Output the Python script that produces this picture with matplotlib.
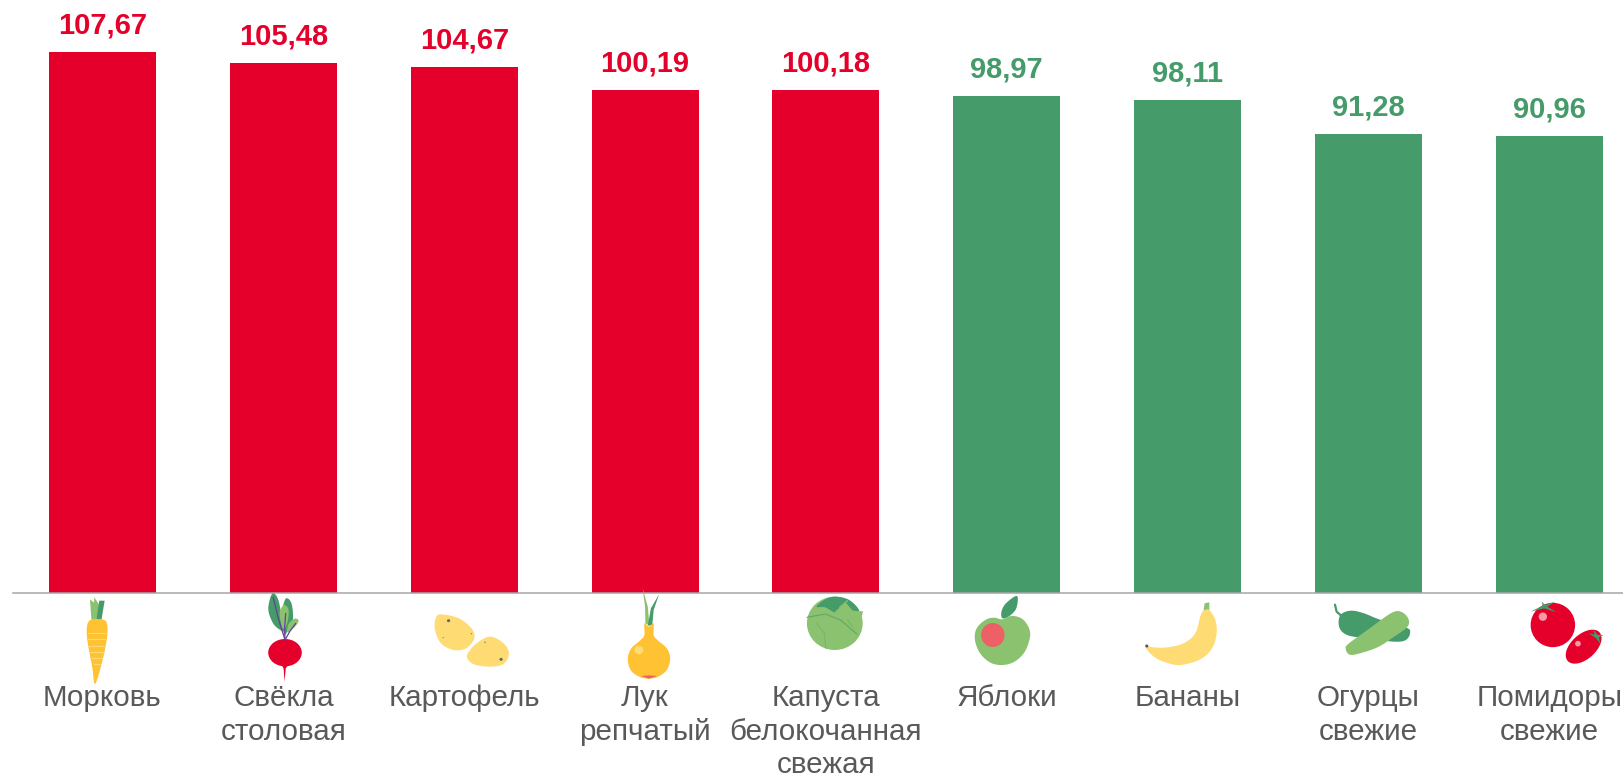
import numpy as np
import matplotlib
matplotlib.use("Agg")
import matplotlib.pyplot as plt
from matplotlib.patches import Polygon, Ellipse

categories = ["Морковь", "Свёкла\nстоловая", "Картофель", "Лук\nрепчатый",
              "Капуста\nбелокочанная\nсвежая", "Яблоки", "Бананы",
              "Огурцы\nсвежие", "Помидоры\nсвежие"]
values = [107.67, 105.48, 104.67, 100.19, 100.18, 98.97, 98.11, 91.28, 90.96]
value_labels = ["107,67", "105,48", "104,67", "100,19", "100,18", "98,97", "98,11", "91,28", "90,96"]

RED, GREEN, GRAY = "#E4002B", "#459B69", "#595959"
LGREEN, YEL, PALE, PINK = "#8BC26F", "#FFC233", "#FFDB73", "#EC6066"
bar_colors = [RED] * 5 + [GREEN] * 4

W, H = 1624, 778
BASE = 593.0
STEP = 180.85
AX0 = 12.5
plt.rcParams["font.family"] = ["Liberation Sans", "DejaVu Sans"]
fig = plt.figure(figsize=(W / 100, H / 100), dpi=100, facecolor="white")
ax = fig.add_axes([AX0 / W, 1 - BASE / H, (W - AX0) / W, BASE / H])
x = np.arange(len(values))
ax.bar(x, values, width=107 / STEP, color=bar_colors, linewidth=0)
ax.set_xlim((AX0 - 102.5) / STEP, (W - 102.5) / STEP)
ax.set_ylim(0, BASE / 5.025)
for s in ("top", "left", "right"):
    ax.spines[s].set_visible(False)
ax.spines["bottom"].set_color("#A6A6A6")
ax.spines["bottom"].set_linewidth(1.1)
ax.yaxis.set_visible(False)
ax.set_xticks(x, categories)
ax.tick_params(axis="x", length=0, pad=65.6, labelsize=21.3, labelcolor=GRAY)
for t in ax.get_xticklabels():
    t.set_linespacing(1.25)
for xi, v, lab, c in zip(x, values, value_labels, bar_colors):
    ax.annotate(lab, (xi, v), xytext=(0, 13.2), textcoords="offset points", ha="center",
                va="baseline", fontsize=21, fontweight="bold", color=c, annotation_clip=False)

# decorative produce icons, drawn in figure pixels
ov = fig.add_axes([0, 0, 1, 1], facecolor="none")
ov.set_xlim(0, W); ov.set_ylim(H, 0); ov.axis("off")


def smooth(pts, n=10):
    p = np.array(pts, float)
    out = []
    for i in range(len(p)):
        p0, p1, p2, p3 = p[i - 1], p[i], p[(i + 1) % len(p)], p[(i + 2) % len(p)]
        for t in np.linspace(0, 1, n, endpoint=False):
            out.append(0.5 * (2 * p1 + (p2 - p0) * t + (2 * p0 - 5 * p1 + 4 * p2 - p3) * t ** 2
                              + (3 * p1 - p0 - 3 * p2 + p3) * t ** 3))
    return np.array(out)


class Z:
    """Maps crop coordinates to figure pixels."""
    def __init__(self, x0, sx):
        self.x0, self.sx = x0, sx

    def m(self, pts):
        p = np.array(pts, float)
        return np.c_[self.x0 + p[:, 0] / self.sx, 570 + p[:, 1] / 3]

    def poly(self, pts, c, round_=True):
        q = self.m(pts)
        ov.add_patch(Polygon(smooth(q) if round_ else q, closed=True, fc=c, ec="none"))

    def ell(self, cx, cy, w, h, c, angle=0):
        q = self.m([[cx, cy]])[0]
        ov.add_patch(Ellipse(q, w / self.sx, h / 3, angle=angle, fc=c, ec="none"))

    def line(self, pts, c, lw=1.0):
        q = self.m(pts)
        ov.plot(q[:, 0], q[:, 1], color=c, lw=lw, solid_capstyle="round")


a = Z(0, 2.8)
# carrot
a.poly([(256, 150), (252, 88), (266, 100), (272, 150)], LGREEN, False)
a.poly([(262, 150), (264, 82), (278, 105), (282, 150)], LGREEN, False)
a.poly([(270, 150), (278, 92), (293, 92), (284, 150)], GREEN, False)
a.poly([(272, 147), (295, 152), (301, 175), (298, 215), (285, 280), (266, 342), (258, 290),
        (245, 215), (243, 175), (250, 152)], YEL)
for yy, hw in [(190, 26), (208, 25), (227, 22), (245, 19), (263, 14), (283, 8)]:
    a.line([(272 - hw, yy), (272 + hw, yy)], PALE, 0.8)
# beet
a.poly([(765, 70), (780, 92), (792, 165), (794, 184), (768, 165), (752, 125), (755, 90)], GREEN)
a.poly([(800, 86), (816, 100), (820, 150), (806, 182), (795, 192), (790, 130)], GREEN)
a.poly([(795, 105), (808, 120), (804, 160), (792, 175), (783, 130)], LGREEN)
a.poly([(836, 152), (826, 170), (805, 187), (808, 162), (825, 146)], LGREEN)
for tip in [(765, 82), (800, 130), (828, 160)]:
    a.line([(798, 210), ((798 + tip[0]) / 2 - 2, (210 + tip[1]) / 2), tip], "#6A3D9A", 0.9)
a.poly([(786, 280), (810, 280), (800, 295), (797, 335), (794, 295)], RED, False)
a.ell(798, 248, 94, 82, RED)
# potatoes
a.poly([(1235, 133), (1285, 145), (1320, 175), (1328, 205), (1305, 235), (1270, 240), (1235, 220),
        (1218, 180), (1220, 145)], PALE)
a.poly([(1375, 200), (1410, 220), (1425, 250), (1410, 282), (1370, 290), (1325, 282), (1307, 260),
        (1320, 235), (1345, 212)], PALE)
a.ell(1256, 152, 9, 9, "#666666"); a.ell(1403, 268, 9, 9, "#666666")
a.ell(1320, 191, 4, 4, "#888888"); a.ell(1241, 203, 4, 4, "#888888"); a.ell(1358, 217, 4, 5, "#888888")

b = Z(560, 2.904)
# onion
b.poly([(240, 55), (255, 110), (260, 167), (248, 160), (247, 110)], LGREEN, False)
b.poly([(288, 72), (272, 120), (268, 165), (255, 167), (264, 115)], GREEN, False)
b.poly([(245, 160), (258, 170), (272, 160), (272, 195), (285, 212), (310, 235), (320, 265),
        (310, 300), (285, 320), (258, 326), (230, 320), (205, 300), (197, 265), (207, 235),
        (232, 212), (245, 195)], YEL)
b.ell(229, 240, 26, 26, PALE)
b.poly([(236, 318), (258, 316), (282, 318), (258, 326)], PINK, False)
# cabbage
b.ell(798, 160, 162, 160, LGREEN)
b.poly([(745, 110), (770, 88), (800, 80), (840, 90), (868, 122), (830, 122), (800, 128), (770, 112)], GREEN)
b.poly([(795, 128), (830, 98), (850, 122), (880, 124), (876, 140), (835, 130)], LGREEN, False)
b.line([(717, 142), (770, 132), (815, 150), (862, 192)], "#5FA868", 0.8)
b.line([(812, 112), (835, 92)], LGREEN, 0.9)
b.line([(772, 235), (768, 190), (745, 160)], "#74B46C", 0.7)
b.line([(835, 150), (850, 170)], "#74B46C", 0.7)
# apple
b.poly([(1285, 148), (1310, 138), (1340, 145), (1360, 170), (1365, 200), (1350, 245), (1320, 275),
        (1285, 285), (1250, 278), (1220, 250), (1205, 210), (1210, 175), (1235, 150), (1260, 143)], LGREEN)
b.ell(1257, 195, 68, 72, PINK)
b.poly([(1327, 78), (1325, 115), (1305, 138), (1285, 145), (1282, 125), (1295, 100)], GREEN)

c = Z(1100, 2.992)
# banana
c.poly([(310, 122), (313, 100), (327, 97), (327, 122)], LGREEN, False)
c.poly([(135, 228), (160, 232), (200, 232), (250, 220), (285, 190), (300, 140), (310, 122), (327, 120),
        (345, 150), (349, 190), (335, 235), (300, 268), (240, 285), (190, 275), (155, 255)], PALE)
c.ell(140, 228, 9, 9, "#555555")
# cucumbers
c.line([(703, 104), (708, 125), (725, 140)], GREEN, 1.6)
c.poly([(722, 132), (752, 122), (790, 130), (835, 148), (915, 172), (928, 188), (915, 210), (880, 215),
        (800, 205), (745, 197), (720, 180), (714, 155)], GREEN)
c.poly([(735, 235), (745, 220), (800, 180), (870, 130), (900, 125), (922, 145), (920, 170), (880, 200),
        (830, 232), (770, 252), (745, 253)], LGREEN)
# tomatoes
c.ell(1355, 165, 133, 133, RED)
c.ell(1325, 140, 25, 25, "#F59AA5")
for tip in [(1288, 125), (1365, 127), (1322, 95), (1362, 95)]:
    q = (1330, 110)
    d = np.array(tip, float) - q
    n = np.array([-d[1], d[0]]) / np.hypot(*d) * 5
    c.poly([(q[0] + n[0], q[1] + n[1]), tip, (q[0] - n[0], q[1] - n[1])], GREEN, False)
c.ell(1447, 230, 128, 74, RED, angle=-42)
c.ell(1430, 221, 17, 17, "#F59AA5")
for tip in [(1475, 178), (1506, 195), (1497, 222), (1462, 190)]:
    q = (1487, 200)
    d = np.array(tip, float) - q
    n = np.array([-d[1], d[0]]) / np.hypot(*d) * 5
    c.poly([(q[0] + n[0], q[1] + n[1]), tip, (q[0] - n[0], q[1] - n[1])], GREEN, False)

fig.savefig("out.png", dpi=100)
